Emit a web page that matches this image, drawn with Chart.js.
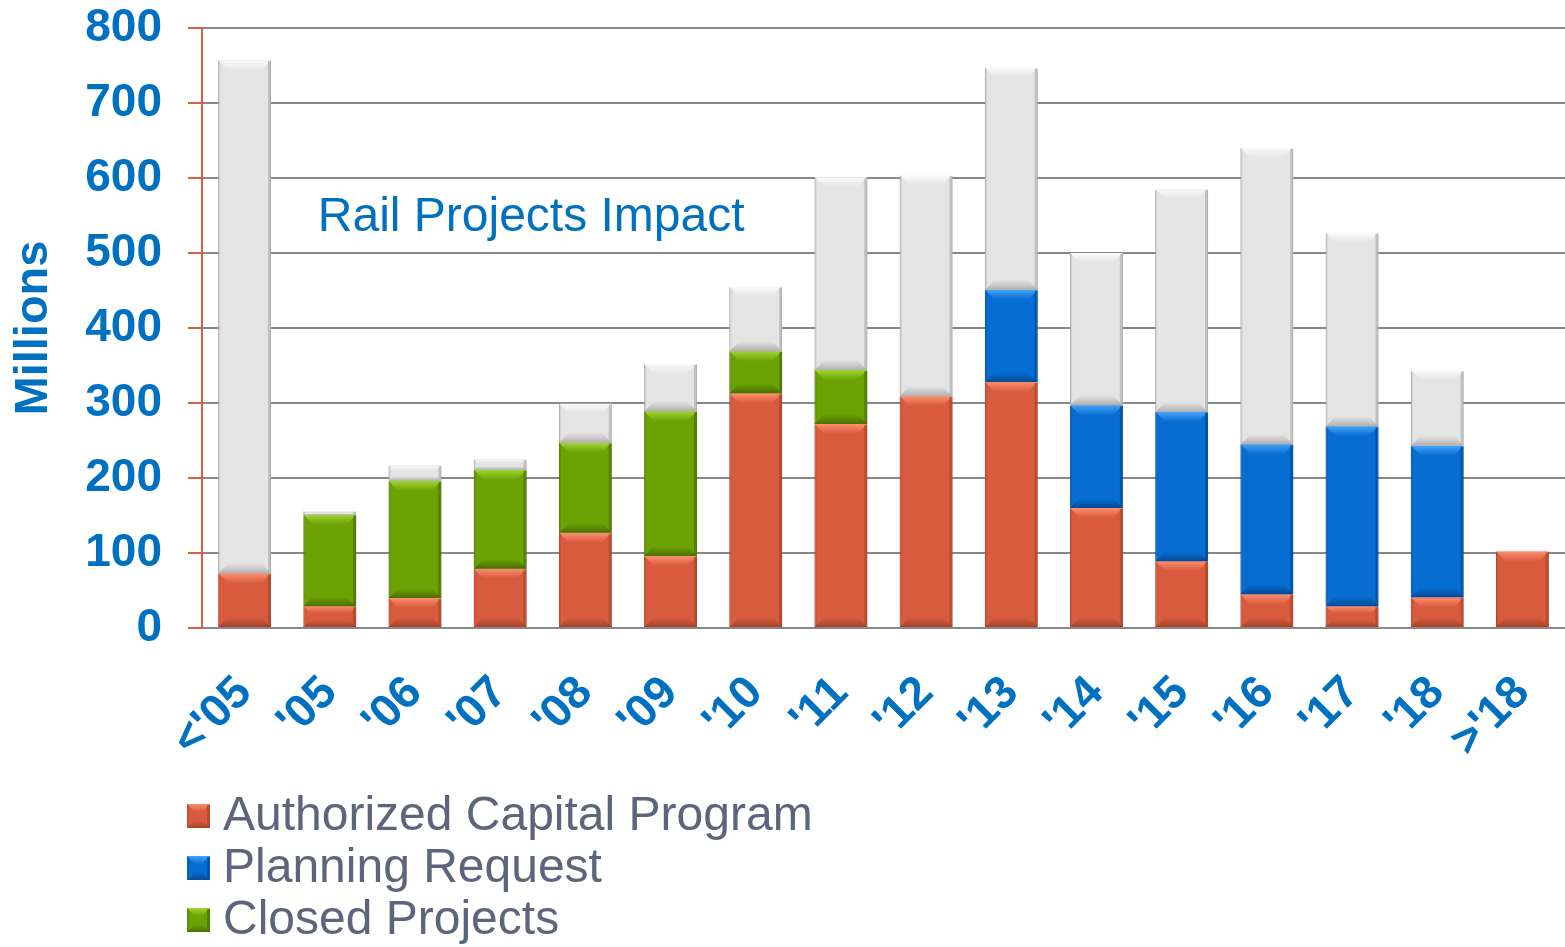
<!DOCTYPE html>
<html>
<head>
<meta charset="utf-8">
<script src="https://cdn.jsdelivr.net/npm/chart.js@4"></script>
<style>
  html, body { margin: 0; padding: 0; background: #fff; }
  #wrap { width: 1565px; height: 947px; position: relative; }
</style>
</head>
<body>
<div id="wrap"><canvas id="c"></canvas></div>
<script>
const labels = ["<'05", "'05", "'06", "'07", "'08", "'09", "'10", "'11", "'12", "'13", "'14", "'15", "'16", "'17", "'18", ">'18"]
const authorized = [73, 29, 40, 79, 127, 96, 313, 272, 309, 328, 160, 89, 45, 29, 41, 102]
const planning = [null, null, null, null, null, null, null, null, null, 123, 137, 199, 200, 240, 202, null]
const closed = [null, 122, 156, 132, 120, 193, 56, 72, null, null, null, null, null, null, null, null]
const other = [684, 5, 21, 14, 52, 63, 86, 257, 295, 296, 203, 297, 395, 258, 100, null]
const yTicks = [0, 100, 200, 300, 400, 500, 600, 700, 800]

const BLUE = '#0070C0'
const FONT = '"Liberation Sans", Arial, sans-serif'

// draws the bevel edges of a box
function bevelBox (ctx, l, t, r, b, ds) {
  const h = b - t
  const d = Math.min(10, h / 3)
  const g = ctx.createLinearGradient(0, t, 0, t + d)
  g.addColorStop(0, ds.light)
  g.addColorStop(1, ds.backgroundColor)
  ctx.fillStyle = g
  ctx.beginPath()
  ctx.moveTo(l, t); ctx.lineTo(r, t); ctx.lineTo(r - d, t + d); ctx.lineTo(l + d, t + d)
  ctx.closePath(); ctx.fill()
  const g2 = ctx.createLinearGradient(0, b - d, 0, b)
  g2.addColorStop(0, ds.backgroundColor)
  g2.addColorStop(1, ds.dark)
  ctx.fillStyle = g2
  ctx.beginPath()
  ctx.moveTo(l, b); ctx.lineTo(r, b); ctx.lineTo(r - d, b - d); ctx.lineTo(l + d, b - d)
  ctx.closePath(); ctx.fill()
  ctx.fillStyle = ds.dark
  ctx.globalAlpha = 0.7
  ctx.fillRect(r - 3, t + 1, 3, h - 1)
  ctx.globalAlpha = 0.35
  ctx.fillRect(l, t + 1, 2, h - 1)
  ctx.globalAlpha = 1
}

const bevel = {
  id: 'bevel',
  afterDatasetsDraw (chart) {
    const ctx = chart.ctx
    chart.data.datasets.forEach((ds, i) => {
      const meta = chart.getDatasetMeta(i)
      meta.data.forEach((bar, j) => {
        if (ds.data[j] == null) return
        const { x, y, base, width } = bar.getProps(['x', 'y', 'base', 'width'], true)
        ctx.save()
        bevelBox(ctx, x - width / 2, y, x + width / 2, base, ds)
        ctx.restore()
      })
    })
  }
}

const extras = {
  id: 'extras',
  afterDraw (chart) {
    const ctx = chart.ctx
    const xs = chart.scales.x, ys = chart.scales.y
    ctx.save()
    ctx.fillStyle = BLUE
    ctx.font = '48px ' + FONT
    ctx.textBaseline = 'middle'
    ctx.textAlign = 'left'
    ctx.fillText('Rail Projects Impact', xs.getPixelForValue(1) - 12, ys.getPixelForValue(547))
    // legend (vertical list, bottom left)
    const items = chart.data.datasets.filter(d => d.inLegend)
    items.forEach((d, k) => {
      const cy = 816 + k * 52
      ctx.fillStyle = d.backgroundColor
      ctx.fillRect(187, cy - 12, 23, 24)
      bevelBox(ctx, 187, cy - 12, 210, cy + 12, d)
      ctx.fillStyle = '#5E6479'
      ctx.font = '48px ' + FONT
      ctx.fillText(d.label, 223, cy + 1)
    })
    ctx.restore()
  }
}

new Chart(document.getElementById('c'), {
  type: 'bar',
  data: {
    labels: labels,
    datasets: [
      { label: 'Authorized Capital Program', data: authorized, backgroundColor: '#D95B3D', light: '#FA8F6E', dark: '#A8432B', borderColor: '#B24A30', inLegend: true },
      { label: 'Planning Request', data: planning, backgroundColor: '#066DD3', light: '#46A4F7', dark: '#044C96', borderColor: '#0558AA', inLegend: true },
      { label: 'Closed Projects', data: closed, backgroundColor: '#6DA204', light: '#A0D534', dark: '#4A7003', borderColor: '#567F03', inLegend: true },
      { label: 'Other', data: other, backgroundColor: '#E4E4E4', light: '#FAFAFA', dark: '#B0B0B0', borderColor: '#A8A8A8', inLegend: false }
    ]
  },
  options: {
    responsive: true,
    maintainAspectRatio: false,
    animation: false,
    layout: { padding: { top: 28, right: 0, bottom: 160, left: 0 } },
    datasets: {
      bar: { borderWidth: 1, borderSkipped: false, barPercentage: 0.62, categoryPercentage: 1 }
    },
    scales: {
      x: {
        stacked: true,
        grid: { display: false },
        border: { color: '#888888', width: 2 },
        ticks: {
          color: BLUE,
          font: { family: FONT, size: 46, weight: 'bold' },
          minRotation: 45,
          maxRotation: 45,
          padding: 30,
          autoSkip: false
        },
        afterFit (scale) {
          scale.height = 159
          scale.paddingLeft = 0
          scale.paddingRight = 0
        }
      },
      y: {
        stacked: true,
        min: 0,
        max: 800,
        afterBuildTicks (scale) { scale.ticks = yTicks.map(v => ({ value: v })) },
        grid: { color: '#888888', lineWidth: 2, tickColor: '#D9603B', tickLength: 14 },
        border: { color: '#D9603B', width: 2 },
        ticks: {
          color: BLUE,
          font: { family: FONT, size: 46, weight: 'bold' },
          padding: 26
        },
        title: {
          display: true,
          text: 'Millions',
          color: BLUE,
          font: { family: FONT, size: 47, weight: 'bold' },
          padding: { top: 6, bottom: 0 }
        },
        afterFit (scale) {
          scale.width = 202
          scale.paddingTop = 0
          scale.paddingBottom = 0
        }
      }
    },
    plugins: {
      legend: { display: false },
      tooltip: { enabled: false }
    }
  },
  plugins: [bevel, extras]
})
</script>
</body>
</html>
